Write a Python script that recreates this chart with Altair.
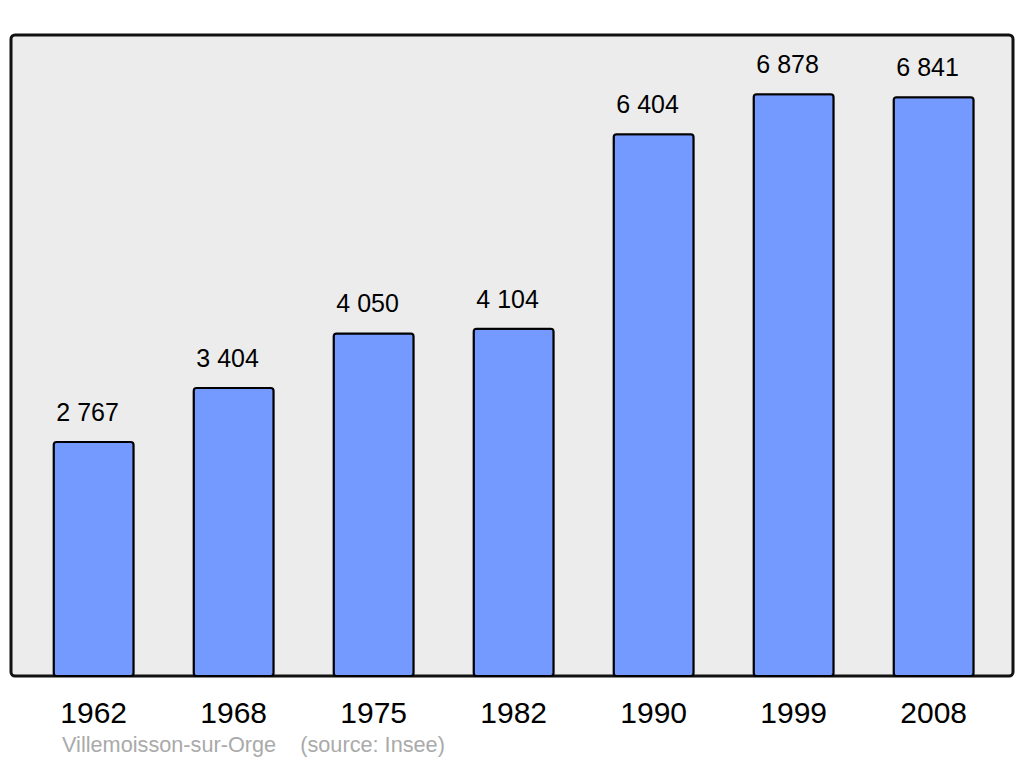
import altair as alt
import pandas as pd

years = ["1962", "1968", "1975", "1982", "1990", "1999", "2008"]
population = [2767, 3404, 4050, 4104, 6404, 6878, 6841]
labels = [f"{v:,}".replace(",", " ") for v in population]

df = pd.DataFrame({"year": years, "pop": population, "label": labels})

x = alt.X("year:N", sort=years, title=None,
          scale=alt.Scale(paddingInner=0.4286, paddingOuter=0.2929, align=0.52),
          axis=alt.Axis(labelAngle=0, labelFontSize=30, labelColor="#000",
                        labelFont="Liberation Sans", ticks=False, tickSize=0,
                        domain=False, labelPadding=22))
y = alt.Y("pop:Q", title=None, scale=alt.Scale(domain=[0, 7577], nice=False, zero=True),
          axis=None)

bars = alt.Chart(df).mark_bar(color="#7499ff", stroke="#000", strokeWidth=2,
                              cornerRadius=3).encode(x=x, y=y)
text = alt.Chart(df).mark_text(fontSize=25, font="Liberation Sans", color="#000",
                               baseline="alphabetic", dy=-21, dx=-6).encode(
    x=alt.X("year:N", sort=years), y="pop:Q", text="label:N")

chart = (bars + text).properties(
    width=1002, height=641,
    autosize=alt.AutoSizeParams(type="none"),
    padding={"left": 3, "top": 27, "right": 3, "bottom": 81},
    title=alt.TitleParams(
        "Villemoisson-sur-Orge\u00a0\u00a0\u00a0 (source: Insee)",
        orient="bottom", anchor="start", fontSize=21.7, font="Liberation Sans",
        fontWeight="normal", color="#aaaaaa", dx=51, offset=7),
).configure_view(fill="#ececec", stroke="#111", strokeWidth=3, cornerRadius=4)

chart.save("out.html", embed_options={"renderer": "svg", "actions": False})
